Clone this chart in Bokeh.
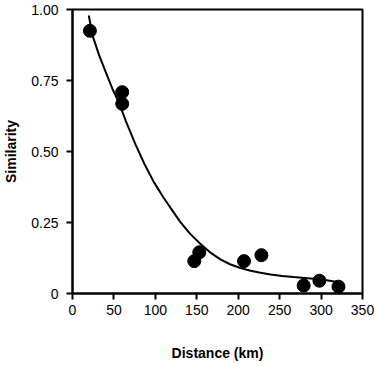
from bokeh.plotting import figure
from bokeh.models import Range1d, FixedTicker
from bokeh.embed import file_html
from bokeh.resources import INLINE

# Observed data points
dist_km = [21, 60, 60, 147, 153, 207, 228, 279, 298, 321]
similarity = [0.925, 0.709, 0.668, 0.114, 0.145, 0.114, 0.135, 0.028, 0.045, 0.024]

# Fitted decay curve
curve_x = [19.7, 24, 32, 40, 48, 56.7, 64, 76, 87, 98, 110, 121, 130, 142, 154.5, 166, 178.6, 190, 202.7, 215, 227, 239, 253, 267, 283, 299, 322]
curve_y = [0.979, 0.910, 0.840, 0.780, 0.722, 0.668, 0.610, 0.525, 0.455, 0.393, 0.337, 0.290, 0.252, 0.210, 0.174, 0.145, 0.120, 0.103, 0.090, 0.080, 0.073, 0.067, 0.062, 0.058, 0.054, 0.050, 0.040]

x_ticks = [0, 50, 100, 150, 200, 250, 300, 350]
y_ticks = [0, 0.25, 0.5, 0.75, 1.0]
y_tick_labels = {0: "0", 0.25: "0.25", 0.5: "0.50", 0.75: "0.75", 1.0: "1.00"}

p = figure(width=374, height=365, output_backend="svg", toolbar_location=None,
           x_range=Range1d(0, 350), y_range=Range1d(0, 1.0),
           min_border_left=72, min_border_right=12, min_border_top=9, min_border_bottom=72)

p.line(curve_x, curve_y, line_color="black", line_width=2)
p.scatter(dist_km, similarity, size=13, color="black")

p.grid.visible = False
p.outline_line_color = "black"
p.outline_line_width = 2
p.background_fill_color = "white"
p.border_fill_color = "white"

font = "Liberation Sans"
for ax in (p.xaxis[0], p.yaxis[0]):
    ax.axis_line_width = 2
    ax.axis_line_color = "black"
    ax.major_tick_line_width = 2
    ax.major_tick_line_color = "black"
    ax.major_tick_out = 6
    ax.major_tick_in = 0
    ax.minor_tick_line_color = None
    ax.major_label_text_font = font
    ax.major_label_text_font_size = "14px"
    ax.major_label_text_color = "black"
    ax.axis_label_text_font = font
    ax.axis_label_text_font_size = "14px"
    ax.axis_label_text_font_style = "bold"
    ax.axis_label_text_color = "black"

p.xaxis[0].ticker = FixedTicker(ticks=x_ticks)
p.yaxis[0].ticker = FixedTicker(ticks=y_ticks)
p.yaxis[0].major_label_overrides = y_tick_labels
p.xaxis[0].axis_label = "Distance (km)"
p.yaxis[0].axis_label = "Similarity"
p.xaxis[0].major_label_standoff = 5
p.xaxis[0].axis_label_standoff = 27
p.yaxis[0].major_label_standoff = 8
p.yaxis[0].axis_label_standoff = 9

open("out.html", "w").write(file_html(p, INLINE))
